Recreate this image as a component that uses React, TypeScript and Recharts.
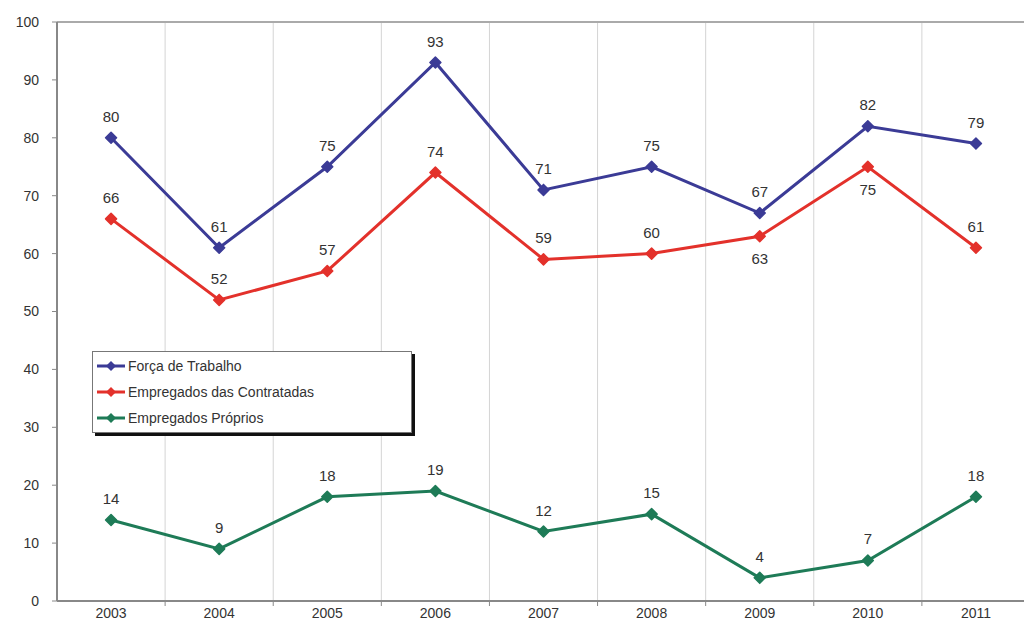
import React from 'react';
import { LineChart, Line, XAxis, YAxis, CartesianGrid, LabelList, ReferenceLine, Legend } from 'recharts';

const years = ['2003', '2004', '2005', '2006', '2007', '2008', '2009', '2010', '2011'];
const forcaTrabalho = [80, 61, 75, 93, 71, 75, 67, 82, 79];
const empregadosContratadas = [66, 52, 57, 74, 59, 60, 63, 75, 61];
const empregadosProprios = [14, 9, 18, 19, 12, 15, 4, 7, 18];
const yTicks = [0, 10, 20, 30, 40, 50, 60, 70, 80, 90, 100];
const redLabelsBelow = ['2009', '2010'];

const data = years.map((y, i) => ({
  year: y,
  forca: forcaTrabalho[i],
  contratadas: empregadosContratadas[i],
  proprios: empregadosProprios[i],
}));

const BLUE = '#3b3b96';
const RED = '#e3312b';
const GREEN = '#1e7b57';
const FONT = '"Liberation Sans", Arial, sans-serif';

const CHART_W = 1040;
const CHART_H = 633;
const MARGIN = { top: 22, right: 10, left: 0, bottom: 2 };
const Y_W = 57;
const PLOT_W = CHART_W - MARGIN.left - MARGIN.right - Y_W;
const BAND = PLOT_W / years.length;

const makeLabel = (below: string[] | null) => (props: any) => {
  const { x, y, value, index } = props;
  const isBelow = below ? below.includes(years[index]) : false;
  return (
    <text
      x={x}
      y={isBelow ? y + 28 : y - 16}
      textAnchor="middle"
      fill="#333"
      fontSize={15}
      fontFamily={FONT}
    >
      {value}
    </text>
  );
};

const makeDot = (color: string) => (props: any) => {
  const { cx, cy, index } = props;
  if (cx == null || cy == null) return <g key={index} />;
  const s = 5.5;
  return (
    <polygon
      key={index}
      points={`${cx},${cy - s} ${cx + s},${cy} ${cx},${cy + s} ${cx - s},${cy}`}
      fill={color}
      stroke={color}
      strokeWidth={1.5}
      strokeLinejoin="round"
    />
  );
};

const XTick = (props: any) => {
  const { x, y, payload } = props;
  return (
    <g>
      <line x1={x + BAND / 2} x2={x + BAND / 2} y1={y - 9} y2={y - 3} stroke="#888" />
      <text x={x} y={y + 9} textAnchor="middle" fill="#333" fontSize={14} fontFamily={FONT}>
        {payload.value}
      </text>
    </g>
  );
};

const legendItems = [
  { name: 'Força de Trabalho', color: BLUE },
  { name: 'Empregados das Contratadas', color: RED },
  { name: 'Empregados Próprios', color: GREEN },
];

const LegendBox = () => (
  <div
    style={{
      width: 320,
      height: 82,
      border: '1px solid #777',
      background: '#fff',
      boxShadow: '3px 3px 0 #111',
      fontFamily: FONT,
      fontSize: 14,
      color: '#333',
      paddingTop: 1,
      boxSizing: 'border-box',
      textAlign: 'left',
    }}
  >
    {legendItems.map((it) => (
      <div key={it.name} style={{ display: 'flex', alignItems: 'center', height: 26, paddingLeft: 4 }}>
        <svg width={28} height={12} style={{ marginRight: 3 }}>
          <line x1={0} x2={28} y1={6} y2={6} stroke={it.color} strokeWidth={3} />
          <polygon points="14,1 19,6 14,11 9,6" fill={it.color} />
        </svg>
        <span>{it.name}</span>
      </div>
    ))}
  </div>
);

export default function App() {
  return (
    <div style={{ position: 'absolute', left: 0, top: 0, width: 1024, height: 633, overflow: 'hidden', background: '#fff' }}>
      <LineChart width={CHART_W} height={CHART_H} data={data} margin={MARGIN}>
        <CartesianGrid
          horizontal={false}
          stroke="#d4d4d4"
          verticalCoordinatesGenerator={({ offset }: any) =>
            years.map((_, i) => offset.left + (i + 1) * (offset.width / years.length))
          }
        />
        <XAxis
          dataKey="year"
          height={30}
          padding={{ left: BAND / 2, right: BAND / 2 }}
          axisLine={{ stroke: '#888', strokeWidth: 2 }}
          tickLine={false}
          tick={<XTick />}
          interval={0}
        />
        <YAxis
          width={Y_W}
          domain={[0, 100]}
          ticks={yTicks}
          interval={0}
          axisLine={{ stroke: '#888', strokeWidth: 2 }}
          tickLine={{ stroke: '#888' }}
          tickSize={5}
          tickMargin={13}
          tick={{ fill: '#333', fontSize: 14, fontFamily: FONT }}
        />
        <ReferenceLine y={100} stroke="#aaa" strokeWidth={2} />
        <Legend
          layout="horizontal"
          verticalAlign="middle"
          align="center"
          content={<LegendBox />}
          wrapperStyle={{ position: 'absolute', left: 92, top: 351, width: 324, height: 86 }}
        />
        <Line
          type="linear"
          dataKey="forca"
          name="Força de Trabalho"
          stroke={BLUE}
          strokeWidth={3}
          dot={makeDot(BLUE)}
          isAnimationActive={false}
        >
          <LabelList dataKey="forca" content={makeLabel(null)} />
        </Line>
        <Line
          type="linear"
          dataKey="contratadas"
          name="Empregados das Contratadas"
          stroke={RED}
          strokeWidth={3}
          dot={makeDot(RED)}
          isAnimationActive={false}
        >
          <LabelList dataKey="contratadas" content={makeLabel(redLabelsBelow)} />
        </Line>
        <Line
          type="linear"
          dataKey="proprios"
          name="Empregados Próprios"
          stroke={GREEN}
          strokeWidth={3}
          dot={makeDot(GREEN)}
          isAnimationActive={false}
        >
          <LabelList dataKey="proprios" content={makeLabel(null)} />
        </Line>
      </LineChart>
    </div>
  );
}
